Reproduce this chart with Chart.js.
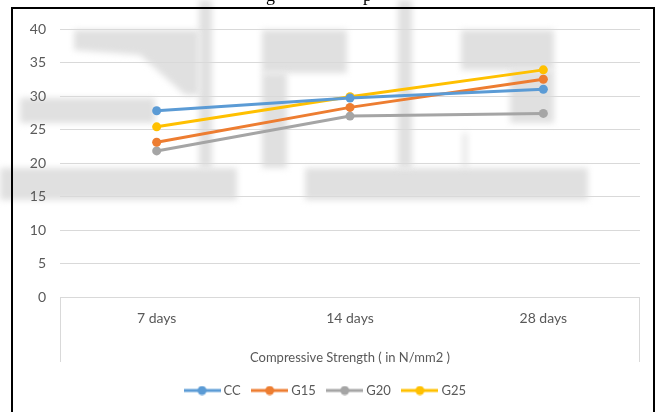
<!DOCTYPE html>
<html>
<head>
<meta charset="utf-8">
<script src="https://cdn.jsdelivr.net/npm/chart.js@4.4.1/dist/chart.umd.min.js"></script>
<style>
  html, body { margin: 0; padding: 0; background: #fff; overflow: hidden; }
  #wrap { position: relative; width: 660px; height: 412px; }
  #frame { position: absolute; left: 11px; top: 7px; width: 644px; height: 430px; border: 2px solid #000; box-sizing: border-box; }
  #caption { position: absolute; left: 0; top: -15px; width: 660px; font-family: 'Liberation Serif', serif; font-size: 18px; color: #000; }
  #caption span { position: absolute; }
  canvas { position: absolute; left: 0; top: 0; }
</style>
</head>
<body>
<div id="wrap">
  <canvas id="strengthChart" width="660" height="412"></canvas>
  <div id="caption"><span style="left:266px">g</span><span style="left:363px">p</span></div>
  <div id="frame"></div>
</div>
<script>
// ages of curing
const labels = ['7 days', '14 days', '28 days'];

// compressive strength values (N/mm2)
const ccData  = [27.8, 29.7, 31.0];
const g15Data = [23.1, 28.3, 32.5];
const g20Data = [21.8, 27.0, 27.4];
const g25Data = [25.4, 29.9, 33.9];

const yTicks = { min: 0, max: 40, step: 5 };

const colors = {
    CC: '#5B9BD5',
    G15: '#ED7D31',
    G20: '#A5A5A5',
    G25: '#FFC000'
};

const textColor = '#595959';
const gridColor = '#D9D9D9';
const fontFamily = "Lato, 'Open Sans', sans-serif";

// legend sample: short line with a dot in the middle
function legendMark(color) {
    const c = document.createElement('canvas');
    c.width = 37;
    c.height = 10;
    const g = c.getContext('2d');
    g.strokeStyle = color;
    g.lineWidth = 3;
    g.beginPath();
    g.moveTo(0, 5);
    g.lineTo(37, 5);
    g.stroke();
    g.fillStyle = color;
    g.beginPath();
    g.arc(18.5, 5, 4.5, 0, Math.PI * 2);
    g.fill();
    return c;
}

// faint grey watermark behind the plot (page decoration, not data)
const watermark = {
    id: 'watermark',
    beforeDraw(chart) {
        const g = chart.ctx;
        g.save();
        g.fillStyle = 'rgb(224,224,224)';
        g.filter = 'blur(3px)';
        g.fillRect(199, 0, 13, 168);
        g.beginPath();
        g.moveTo(74, 30); g.lineTo(199, 30); g.lineTo(199, 95); g.lineTo(185, 95);
        g.lineTo(140, 55); g.lineTo(74, 50); g.closePath();
        g.fill();
        g.fillRect(20, 98, 135, 25);
        g.fillRect(0, 168, 237, 32);
        g.fillRect(305, 168, 283, 32);
        g.fillRect(262, 30, 85, 43);
        g.fillRect(262, 73, 25, 95);
        g.fillRect(398, 0, 14, 168);
        g.fillRect(461, 30, 93, 40);
        g.fillRect(510, 70, 44, 53);
        g.fillRect(463, 133, 4, 35);
        g.restore();
    }
};

// the light box under the plot that frames the category labels
const axisBox = {
    id: 'axisBox',
    beforeDatasetsDraw(chart) {
        const { ctx, chartArea } = chart;
        const xs = chart.scales.x;
        ctx.save();
        ctx.strokeStyle = gridColor;
        ctx.lineWidth = 1;
        ctx.beginPath();
        ctx.moveTo(Math.round(chartArea.left) + 0.5, xs.top);
        ctx.lineTo(Math.round(chartArea.left) + 0.5, xs.top + 65);
        ctx.moveTo(Math.round(chartArea.right) - 0.5, xs.top);
        ctx.lineTo(Math.round(chartArea.right) - 0.5, xs.top + 65);
        ctx.stroke();
        ctx.restore();
    }
};

function makeSet(label, data, color) {
    return {
        label: label,
        data: data,
        borderColor: color,
        backgroundColor: color,
        borderWidth: 3,
        pointRadius: 4.5,
        pointHoverRadius: 4.5,
        pointBorderWidth: 0,
        tension: 0,
        fill: false
    };
}

const ctx = document.getElementById('strengthChart').getContext('2d');
const chart = new Chart(ctx, {
    type: 'line',
    data: {
        labels: labels,
        datasets: [
            makeSet('CC', ccData, colors.CC),
            makeSet('G15', g15Data, colors.G15),
            makeSet('G20', g20Data, colors.G20),
            makeSet('G25', g25Data, colors.G25)
        ]
    },
    options: {
        responsive: false,
        animation: false,
        layout: {
            padding: { left: 13, right: 20, top: 29, bottom: 5 }
        },
        scales: {
            x: {
                offset: true,
                grid: { display: false },
                border: { display: false },
                ticks: {
                    color: textColor,
                    font: { family: fontFamily, size: 14 },
                    padding: 5,
                    maxRotation: 0
                },
                title: {
                    display: true,
                    text: 'Compressive Strength ( in N/mm2 )',
                    color: textColor,
                    font: { family: fontFamily, size: 13 },
                    padding: { top: 0, bottom: 4 }
                },
                afterFit(scale) {
                    scale.height = 73;
                }
            },
            y: {
                min: yTicks.min,
                max: yTicks.max,
                border: { display: false },
                grid: { color: gridColor, drawTicks: false },
                ticks: {
                    stepSize: yTicks.step,
                    color: textColor,
                    font: { family: fontFamily, size: 14 },
                    padding: 14
                },
                afterFit(scale) {
                    scale.width = 47;
                }
            }
        },
        plugins: {
            tooltip: { enabled: false },
            legend: {
                position: 'bottom',
                labels: {
                    color: textColor,
                    font: { family: fontFamily, size: 13 },
                    usePointStyle: true,
                    pointStyleWidth: 30,
                    boxHeight: 10,
                    padding: 14,
                    generateLabels(ch) {
                        return ch.data.datasets.map((ds, i) => ({
                            text: ds.label,
                            fillStyle: ds.borderColor,
                            strokeStyle: ds.borderColor,
                            fontColor: textColor,
                            lineWidth: 0,
                            pointStyle: legendMark(ds.borderColor),
                            hidden: false,
                            datasetIndex: i
                        }));
                    }
                }
            }
        }
    },
    plugins: [watermark, axisBox]
});
</script>
</body>
</html>
